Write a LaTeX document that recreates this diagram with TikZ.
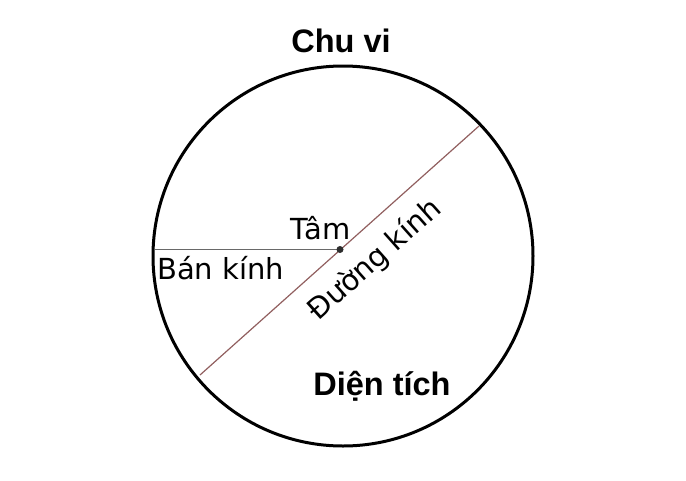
\documentclass[tikz,border=0pt]{standalone}
\usepackage{fontspec}
\setmainfont{DejaVu Sans}
\newfontfamily\headfont{Liberation Sans}
\definecolor{radiusgray}{RGB}{105,105,105}
\definecolor{diamred}{RGB}{145,95,95}
\definecolor{dotgray}{RGB}{45,45,45}
\tikzset{
  headlabel/.style={font=\headfont\bfseries\fontsize{32.5}{35}\selectfont, inner sep=0pt},
  partlabel/.style={font=\fontsize{29}{31}\selectfont, inner sep=0pt},
}
\usetikzlibrary{positioning}

\begin{document}
\begin{tikzpicture}[x=1pt, y=-1pt]
  \useasboundingbox (0,0) rectangle (686,480);

  \draw [line width=3] (343,256) circle [radius=190];

  \coordinate (tam) at (340,249.5);
  \coordinate (radend) at (155,249.5);
  \coordinate (diamtop) at (479,126);
  \coordinate (diambot) at (200,375);

  \draw [radiusgray, line width=1.4] (radend) -- (tam);
  \draw [diamred, line width=1.2] (diambot) -- (diamtop);
  \fill [dotgray] (tam) circle [radius=3.5];

  \node [headlabel, anchor=base] (chuvi) at (341,52) {Chu vi};
  \node [headlabel, anchor=base] (dientich) at (382,395) {Diện tích};
  \node [partlabel, anchor=base west] (tamlbl) at (290,239) {Tâm};
  \node [partlabel, anchor=base west] (bankinh) at (157,279) {Bán kính};
  \node [partlabel, rotate=41.7] (duongkinh) at (375,260) {Đường kính};

\end{tikzpicture}
\end{document}
